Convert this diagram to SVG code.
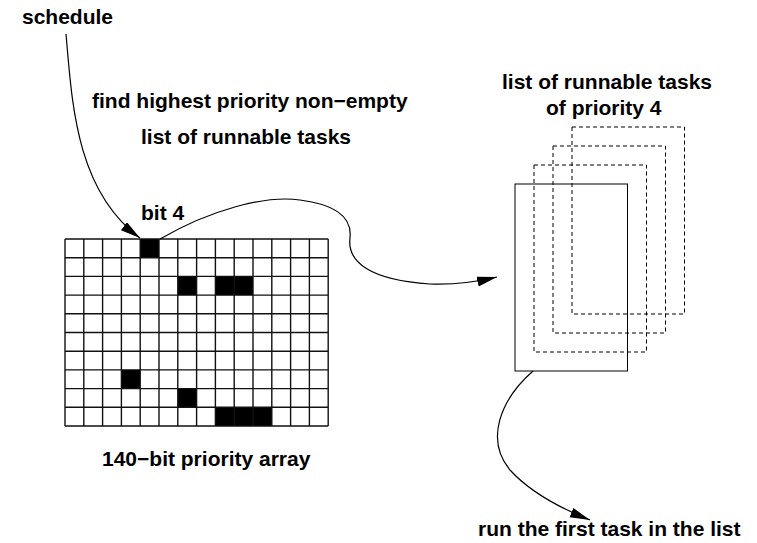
<svg xmlns="http://www.w3.org/2000/svg" width="757" height="543" viewBox="0 0 757 543">
<style>
text{font-family:"Liberation Sans",Arial,Helvetica,sans-serif;font-weight:bold;font-size:21px;fill:#000}
.grid{fill:none;stroke:#111;stroke-width:1.4}
.cell{fill:#000}
.solid{fill:none;stroke:#000;stroke-width:1}
.dash{fill:none;stroke:#000;stroke-width:1;stroke-dasharray:4 3}
.conn{fill:none;stroke:#000;stroke-width:1.2}
</style>
<defs>
<marker id="arr" markerWidth="22" markerHeight="12" refX="20" refY="5" orient="auto" markerUnits="userSpaceOnUse">
<path d="M0,0 L20,5 L0,10 Z" fill="#000"/>
</marker>
</defs>
<rect width="757" height="543" fill="#fff"/>
<g id="labels">
<text x="22" y="24">schedule</text>
<text x="92" y="108">find highest priority non−empty</text>
<text x="141" y="144">list of runnable tasks</text>
<text x="141" y="220">bit 4</text>
<text x="102" y="466">140−bit priority array</text>
<text x="502" y="89">list of runnable tasks</text>
<text x="546" y="115">of priority 4</text>
<text x="478" y="536">run the first task in the list</text>
</g>
<g id="priority-array">
<rect class="cell" x="140.2" y="239" width="18.8" height="18.7"/>
<rect class="cell" x="177.8" y="276.4" width="18.8" height="18.7"/>
<rect class="cell" x="215.4" y="276.4" width="37.6" height="18.7"/>
<rect class="cell" x="121.4" y="369.9" width="18.8" height="18.7"/>
<rect class="cell" x="177.8" y="388.6" width="18.8" height="18.7"/>
<rect class="cell" x="215.4" y="407.3" width="56.4" height="18.7"/>
<path class="grid" d="M65,239V426M83.8,239V426M102.6,239V426M121.4,239V426M140.2,239V426M159,239V426M177.8,239V426M196.6,239V426M215.4,239V426M234.2,239V426M253,239V426M271.8,239V426M290.6,239V426M309.4,239V426M328.2,239V426
M65,239H328.2M65,257.7H328.2M65,276.4H328.2M65,295.1H328.2M65,313.8H328.2M65,332.5H328.2M65,351.2H328.2M65,369.9H328.2M65,388.6H328.2M65,407.3H328.2M65,426H328.2"/>
</g>
<g id="task-lists">
<rect class="dash" x="572" y="127" width="112.5" height="187"/>
<rect class="dash" x="553" y="146" width="112.5" height="187"/>
<rect class="dash" x="534" y="165" width="112.5" height="187"/>
<rect class="solid" x="515" y="184" width="112.5" height="187"/>
</g>
<g id="connectors">
<path class="conn" d="M66,34 C72,100 75,190 140,238" marker-end="url(#arr)"/>
<path class="conn" d="M160,239 C210,210 265,195 300,200 C340,205 352,220 350,238 C347,262 370,280 430,284 C455,285 480,281 497,277" marker-end="url(#arr)"/>
<path class="conn" d="M533,371 C500,400 485,440 510,470 C530,492 560,508 590,520" marker-end="url(#arr)"/>
</g>
</svg>
